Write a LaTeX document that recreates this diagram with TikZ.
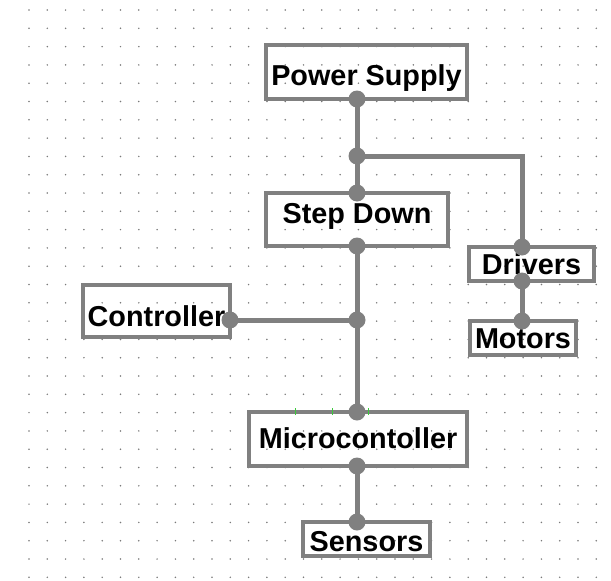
\documentclass[tikz,border=0pt]{standalone}
\usepackage{fontspec}
\setmainfont{Liberation Sans}
\usetikzlibrary{calc}
\definecolor{C_WIRE}{HTML}{808080}
\definecolor{C_GRID}{HTML}{7A7A7A}
\definecolor{C_TICK}{HTML}{3CC83C}
\tikzset{
  %% -- block of the diagram --
  BD/block/.style={
    draw=C_WIRE, line width=4.5pt, inner sep=0pt, outer sep=0pt,
    text height=21pt, text depth=0pt,
    font=\fontsize{28.8}{31}\selectfont\bfseries
  },
  %% -- wire between blocks --
  BD/wire/.style={draw=C_WIRE, line width=5pt},
  %% -- junction dot --
  BD/dot/.style={fill=C_WIRE},
  %% -- background grid dot --
  BD/grid/.style={fill=C_GRID},
  %% -- small marks on a border --
  BD/tick/.style={draw=C_TICK, line width=1pt},
}
\begin{document}
\begin{tikzpicture}[x=1pt, y=-1pt]
\useasboundingbox (0,0) rectangle (611,581);

%% ── Dotted grid ──────────────────────────────────────────────
\foreach \i in {0,...,31}{
  \foreach \j in {0,...,31}{
    \fill[BD/grid] ({29+18.3*\i},{10+18.3*\j}) circle (0.85pt);
  }
}

%% ── Blocks ───────────────────────────────────────────────────
\node[BD/block, minimum width=201pt, minimum height=54pt,
      text height=27pt] (ps) at (366.5,72)
  {Power Supply};
\node[BD/block, minimum width=182pt, minimum height=53pt,
      text depth=13pt] (sd) at (357,219.5)
  {Step Down};
\node[BD/block, minimum width=125pt, minimum height=34pt] (dr) at (531.5,264)
  {Drivers};
\node[BD/block, minimum width=106pt, minimum height=34pt] (mt) at (523,338)
  {Motors};
\node[BD/block, minimum width=147pt, minimum height=52pt,
      text height=31pt] (ct) at (156.5,311)
  {Controller};
\node[BD/block, minimum width=218pt, minimum height=54pt,
      text depth=3pt] (mc) at (358,439)
  {Microcontoller};
\node[BD/block, minimum width=127pt, minimum height=34pt,
      text height=25pt] (sn) at (366.5,539)
  {Sensors};

%% ── Junctions ────────────────────────────────────────────────
\coordinate (jP) at (357,156);  % power split
\coordinate (jD) at (522,156);  % corner to drivers
\coordinate (jC) at (357,320);  % controller tap

%% ── Wires ────────────────────────────────────────────────────
\draw[BD/wire] (ps.south -| jP) -- (sd.north -| jP);
\draw[BD/wire] (jP) -- (jD) -- (dr.north -| jD);
\draw[BD/wire] (dr.south -| jD) -- (mt.north -| jD);
\draw[BD/wire] (sd.south -| jP) -- (mc.north -| jP);
\draw[BD/wire] (ct.east |- jC) -- (jC);
\draw[BD/wire] (mc.south -| jP) -- (sn.north -| jP);

%% ── Dots ─────────────────────────────────────────────────────
\fill[BD/dot] (ps.south -| jP) circle (8.5pt);
\fill[BD/dot] (jP) circle (8.5pt);
\fill[BD/dot] (sd.north -| jP) circle (8.5pt);
\fill[BD/dot] (sd.south -| jP) circle (8.5pt);
\fill[BD/dot] (dr.north -| jD) circle (8.5pt);
\fill[BD/dot] (dr.south -| jD) circle (8.5pt);
\fill[BD/dot] (mt.north -| jD) circle (8.5pt);
\fill[BD/dot] (ct.east |- jC) circle (8.5pt);
\fill[BD/dot] (jC) circle (8.5pt);
\fill[BD/dot] (mc.north -| jP) circle (8.5pt);
\fill[BD/dot] (mc.south -| jP) circle (8.5pt);
\fill[BD/dot] (sn.north -| jP) circle (8.5pt);

%% green marks on the microcontroller top border
\foreach \x in {295,332,368}
  \draw[BD/tick] ([yshift=-3pt]mc.north -| \x,0) -- ([yshift=4pt]mc.north -| \x,0);

\end{tikzpicture}
\end{document}
